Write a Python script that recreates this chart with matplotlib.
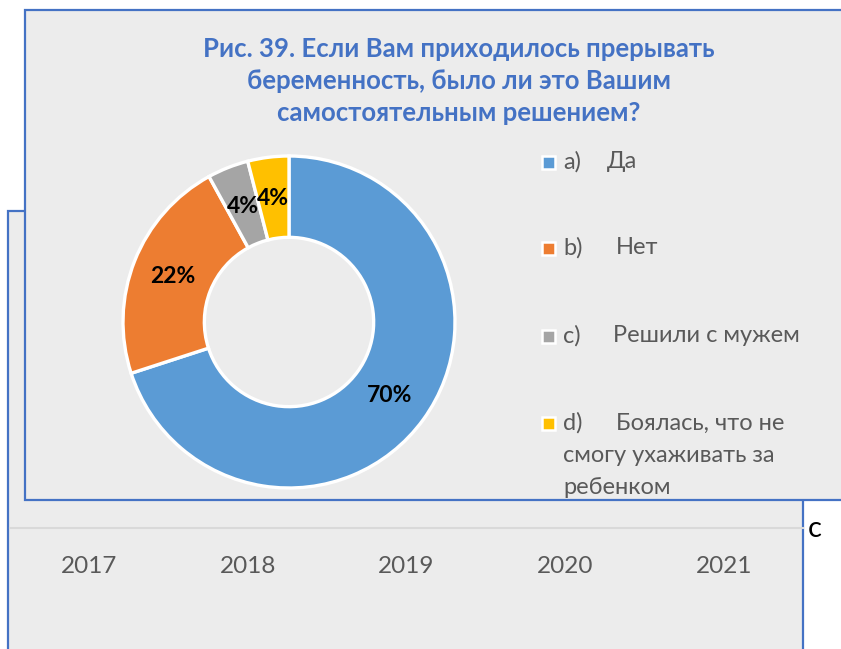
import matplotlib
matplotlib.use("Agg")
import matplotlib.pyplot as plt
from matplotlib.patches import Rectangle

plt.rcParams["font.family"] = ["Lato", "DejaVu Sans"]

# data
TITLE = "Рис. 39. Если Вам приходилось прерывать\nбеременность, было ли это Вашим\nсамостоятельным решением?"
PREFIXES = ["a)", "b)", "c)", "d)"]
ANSWERS = ["Да", "Нет", "Решили с мужем", "Боялась, что не\nсмогу ухаживать за\nребенком"]
SHARES = [70, 22, 4, 4]
COLORS = ["#5b9bd5", "#ed7d31", "#a5a5a5", "#ffc000"]
YEARS = ["2017", "2018", "2019", "2020", "2021"]

W, H = 841, 649
BLUE = "#4472c4"
PANEL = "#ececec"
INK = "#595959"

fig = plt.figure(figsize=(W / 100, H / 100), dpi=100)
fig.patch.set_facecolor("white")


def fx(px):
    return px / W


def fy(py):
    return 1 - py / H


def box(x0, y0, x1, y1):
    # pixel box (top-left origin) -> figure fraction rect
    return [fx(x0), fy(y1), fx(x1) - fx(x0), fy(y0) - fy(y1)]


# chart lying behind (only its lower part shows)
fig.add_artist(Rectangle((fx(8), fy(700)), fx(803) - fx(8), fy(211) - fy(700),
                         transform=fig.transFigure, facecolor=PANEL,
                         edgecolor=BLUE, lw=1.6, zorder=-3))
axb = fig.add_axes(box(10, 300, 803, 528))
axb.set_zorder(-2)
axb.patch.set_visible(False)
axb.set_xlim(-0.5, len(YEARS) - 0.5)
axb.set_xticks(range(len(YEARS)))
axb.set_xticklabels(YEARS, fontsize=17.5, color=INK)
axb.set_yticks([])
axb.tick_params(axis="x", length=0, pad=20)
for s in ("top", "left", "right"):
    axb.spines[s].set_visible(False)
axb.spines["bottom"].set_color("#d9d9d9")
axb.spines["bottom"].set_linewidth(1.5)
fig.text(fx(808), fy(529), "с", fontsize=21, color="black", ha="left", va="center")

# front chart panel
fig.add_artist(Rectangle((fx(25), fy(500)), fx(860) - fx(25), fy(10) - fy(500),
                         transform=fig.transFigure, facecolor=PANEL,
                         edgecolor=BLUE, lw=1.6, zorder=-1))

fig.text(fx(459), fy(81), TITLE, fontsize=18.5, fontweight="bold", color=BLUE,
         ha="center", va="center", linespacing=1.42)

# donut
R = 170
ax = fig.add_axes(box(289 - R, 322 - R, 289 + R, 322 + R))
ax.set_zorder(1)
wedges, _, pcts = ax.pie(SHARES, colors=COLORS, startangle=90, counterclock=False,
                         radius=1, autopct="%.0f%%", pctdistance=0.75,
                         wedgeprops=dict(width=0.49, edgecolor="white", linewidth=2.4),
                         textprops=dict(fontsize=16.5, fontweight="bold", color="black"))
ax.set_xlim(-R / 166, R / 166)
ax.set_ylim(-R / 166, R / 166)
ax.set_aspect("equal")

# legend
ROW_Y = [162, 248, 336, 423]
LABEL_X = [607, 616, 613, 616]
for i, (pre, ans) in enumerate(zip(PREFIXES, ANSWERS)):
    y = ROW_Y[i]
    fig.add_artist(Rectangle((fx(542), fy(y + 7)), fx(555) - fx(542), fy(y - 6) - fy(y + 7),
                             transform=fig.transFigure, facecolor=COLORS[i],
                             edgecolor="white", lw=1.8, zorder=2))
    fig.text(fx(563), fy(y), pre, fontsize=17, color=INK, ha="left", va="center")
    lines = ans.split("\n")
    fig.text(fx(LABEL_X[i]), fy(y), lines[0], fontsize=17, color=INK,
             ha="left", va="center")
    for k, ln in enumerate(lines[1:], start=1):
        fig.text(fx(563), fy(y + 32 * k), ln, fontsize=17, color=INK,
                 ha="left", va="center")

fig.savefig("out.png", dpi=100, facecolor="white")
